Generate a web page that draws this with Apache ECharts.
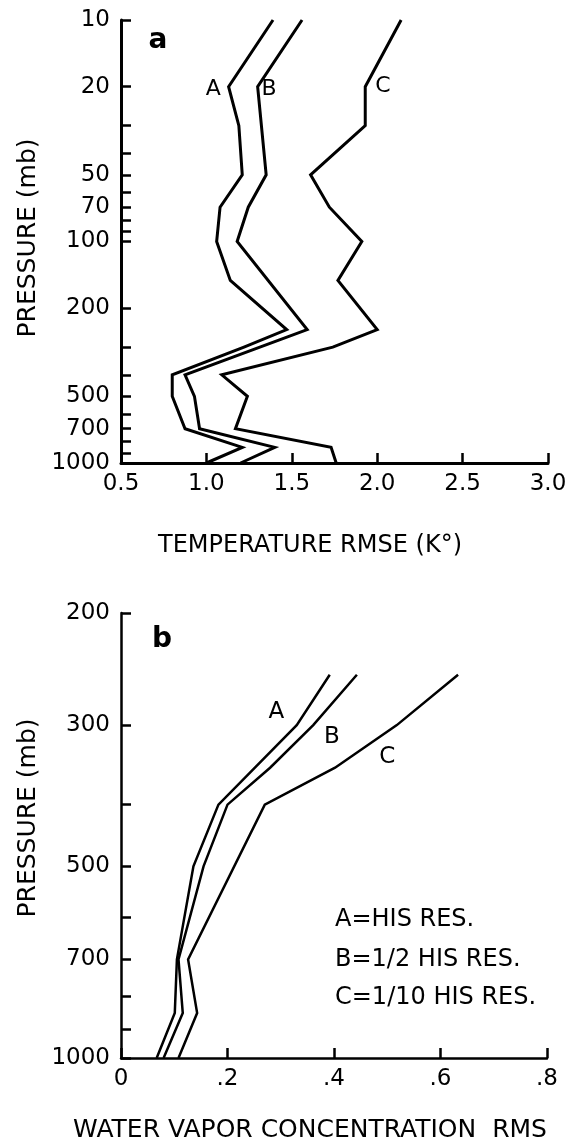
<!DOCTYPE html>
<html>
<head>
<meta charset="utf-8">
<script src="https://cdn.jsdelivr.net/npm/echarts@6/dist/echarts.min.js"></script>
<style>
  html, body { margin: 0; padding: 0; background: #fff; }
  #chart { width: 574px; height: 1144px; }
</style>
</head>
<body>
<div id="chart"></div>
<script>
// ---- Panel a: temperature retrieval error profiles ----
const tempLevelsA = [10, 20, 30, 50, 70, 100, 150, 250, 300, 400, 500, 700, 850, 1000];
const tempRmseA   = [1.39, 1.13, 1.19, 1.21, 1.08, 1.06, 1.14, 1.47, 1.22, 0.80, 0.80, 0.875, 1.21, 1.00];
const tempLevelsB = [10, 20, 50, 70, 100, 250, 400, 500, 700, 850, 1000];
const tempRmseB   = [1.56, 1.30, 1.35, 1.245, 1.18, 1.59, 0.875, 0.93, 0.96, 1.40, 1.20];
const tempLevelsC = [10, 20, 30, 50, 70, 100, 150, 250, 300, 400, 500, 700, 850, 1000];
const tempRmseC   = [2.14, 1.93, 1.93, 1.61, 1.72, 1.91, 1.77, 2.00, 1.74, 1.09, 1.24, 1.17, 1.73, 1.76];

const tempTickValues  = [10, 20, 30, 40, 50, 60, 70, 80, 90, 100, 200, 300, 400, 500, 600, 700, 800, 900, 1000];
const tempLabelValues = [10, 20, 50, 70, 100, 200, 500, 700, 1000];

// curve tags drawn next to the profiles: [x, pressure, text]
const tempTags = [[1.04, 20.5, 'A'], [1.367, 20.5, 'B'], [2.034, 20, 'C']];

// ---- Panel b: water vapour retrieval error profiles ----
const wvLevelsA = [250, 300, 400, 500, 700, 850, 1000];
const wvRmsA    = [0.392, 0.33, 0.183, 0.136, 0.105, 0.101, 0.067];
const wvLevelsB = [250, 300, 350, 400, 500, 700, 850, 1000];
const wvRmsB    = [0.443, 0.361, 0.28, 0.20, 0.155, 0.108, 0.116, 0.08];
const wvLevelsC = [250, 300, 350, 400, 700, 850, 1000];
const wvRmsC    = [0.633, 0.518, 0.402, 0.270, 0.126, 0.143, 0.108];

const wvTickValues  = [200, 300, 400, 500, 600, 700, 800, 900, 1000];
const wvLabelValues = [200, 300, 500, 700, 1000];

const wvTags = [[0.292, 286, 'A'], [0.396, 313, 'B'], [0.50, 337, 'C']];

const legendLines = ['A=HIS RES.', 'B=1/2 HIS RES.', 'C=1/10 HIS RES.'];

const FONT = 'DejaVu Sans';
const INK = '#000';

function pairs(xs, ps) { return xs.map((x, i) => [x, ps[i]]); }

function profile(name, xs, ps, idx, width) {
  return {
    name: name, type: 'line', xAxisIndex: idx, yAxisIndex: idx,
    data: pairs(xs, ps), showSymbol: false, symbol: 'none', silent: true,
    lineStyle: { color: INK, width: width, join: 'miter' }
  };
}

function tags(list, idx, size) {
  return {
    type: 'scatter', xAxisIndex: idx, yAxisIndex: idx, silent: true,
    symbol: 'circle', symbolSize: 1, itemStyle: { color: '#fff', opacity: 0 },
    data: list.map(t => ({ value: [t[0], t[1]], name: t[2] })),
    label: { show: true, position: 'inside', formatter: '{b}', opacity: 1,
             color: INK, textBorderWidth: 0, fontFamily: FONT, fontSize: size }
  };
}

function pressureAxis(idx, min, max, ticks, labels, lw) {
  return {
    type: 'log', logBase: 10, gridIndex: idx, min: min, max: max, inverse: true,
    axisLine: { show: true, lineStyle: { color: INK, width: lw } },
    axisTick: { show: true, inside: true, length: 10, customValues: ticks,
                lineStyle: { color: INK, width: 2.5 } },
    axisLabel: { customValues: labels, margin: 11, color: INK,
                 fontFamily: FONT, fontSize: 23,
                 formatter: v => String(Math.round(v)) },
    splitLine: { show: false }, minorTick: { show: false }
  };
}

function valueAxis(idx, min, max, step, fmt, lw) {
  return {
    type: 'value', gridIndex: idx, min: min, max: max, interval: step,
    axisLine: { show: true, lineStyle: { color: INK, width: lw } },
    axisTick: { show: true, inside: true, length: 10, lineStyle: { color: INK, width: 2.5 } },
    axisLabel: { margin: 10, color: INK, fontFamily: FONT, fontSize: 23, formatter: fmt,
                 showMinLabel: true, showMaxLabel: true },
    splitLine: { show: false }
  };
}

function txt(x, y, text, size, opts) {
  return Object.assign({
    type: 'text', x: x, y: y, silent: true,
    style: Object.assign({ text: text, fill: INK, fontFamily: FONT, fontSize: size,
                           textAlign: 'center', textVerticalAlign: 'middle' },
                         (opts && opts.style) || {})
  }, opts && opts.rotation !== undefined ? { rotation: opts.rotation } : {});
}

const chart = echarts.init(document.getElementById('chart'), null, { renderer: 'canvas' });

chart.setOption({
  backgroundColor: '#fff',
  animation: false,
  grid: [
    { left: 121, top: 20, width: 427, height: 443 },
    { left: 121, top: 613, width: 426, height: 445 }
  ],
  xAxis: [
    valueAxis(0, 0.5, 3.0, 0.5, v => v.toFixed(1), 3),
    valueAxis(1, 0, 0.8, 0.2, v => (Math.abs(v) < 1e-9 ? '0' : '.' + Math.round(v * 10)), 2.5)
  ],
  yAxis: [
    pressureAxis(0, 10, 1000, tempTickValues, tempLabelValues, 3),
    pressureAxis(1, 200, 1000, wvTickValues, wvLabelValues, 2.5)
  ],
  series: [
    profile('A', tempRmseA, tempLevelsA, 0, 3),
    profile('B', tempRmseB, tempLevelsB, 0, 3),
    profile('C', tempRmseC, tempLevelsC, 0, 3),
    tags(tempTags, 0, 22),
    profile('A', wvRmsA, wvLevelsA, 1, 2.5),
    profile('B', wvRmsB, wvLevelsB, 1, 2.5),
    profile('C', wvRmsC, wvLevelsC, 1, 2.5),
    tags(wvTags, 1, 23)
  ],
  graphic: [
    txt(158, 41, 'a', 28, { style: { fontWeight: 'bold' } }),
    txt(162, 640, 'b', 28, { style: { fontWeight: 'bold' } }),
    txt(28, 238, 'PRESSURE (mb)', 25, { rotation: Math.PI / 2 }),
    txt(28, 818, 'PRESSURE (mb)', 25, { rotation: Math.PI / 2 }),
    txt(310, 546, 'TEMPERATURE RMSE (K°)', 24),
    txt(310, 1130, 'WATER VAPOR CONCENTRATION  RMS', 25),
    txt(335, 920, legendLines[0], 24, { style: { textAlign: 'left' } }),
    txt(335, 960, legendLines[1], 24, { style: { textAlign: 'left' } }),
    txt(335, 998, legendLines[2], 24, { style: { textAlign: 'left' } })
  ]
});
</script>
</body>
</html>
